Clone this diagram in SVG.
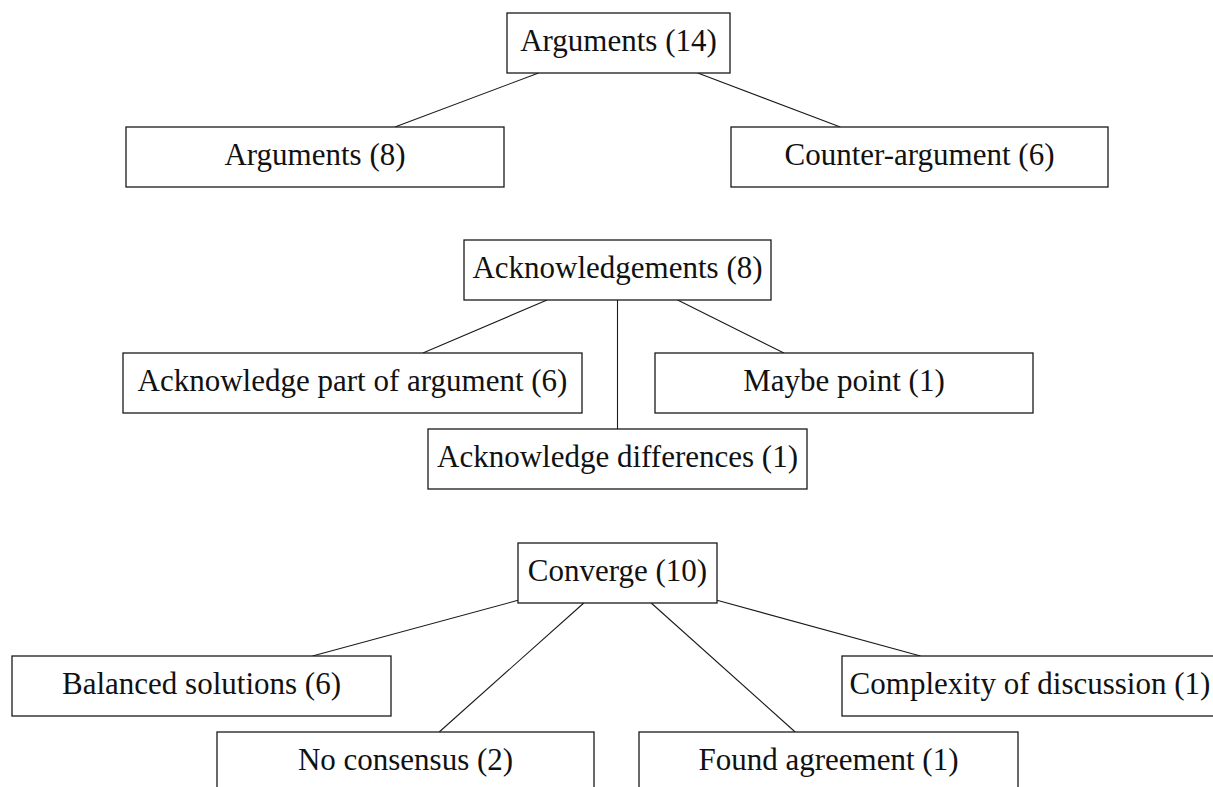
<svg xmlns="http://www.w3.org/2000/svg" width="1213" height="787" viewBox="0 0 1213 787">
  <style>
    .box { fill: #ffffff; stroke: #1a1a1a; stroke-width: 1.3; }
    .lbl { font-family: "Liberation Serif", "Times New Roman", serif; font-size: 31px; fill: #111111; text-anchor: middle; }
    .edge { stroke: #1a1a1a; stroke-width: 1.1; fill: none; }
  </style>
  <rect width="1213" height="787" fill="#ffffff"/>

  <!-- connectors: centre-to-centre lines clipped at the box borders -->
  <g id="connectors">
    <line class="edge" x1="538.6" y1="73" x2="394.9" y2="127"/>
    <line class="edge" x1="697.7" y1="73" x2="840.3" y2="127"/>
    <line class="edge" x1="547.1" y1="300" x2="422.9" y2="353"/>
    <line class="edge" x1="677.6" y1="300" x2="783.9" y2="353"/>
    <line class="edge" x1="617.5" y1="300" x2="617.5" y2="429"/>
    <line class="edge" x1="518" y1="600.3" x2="312.5" y2="656"/>
    <line class="edge" x1="583.8" y1="603" x2="439.2" y2="732"/>
    <line class="edge" x1="651.2" y1="603" x2="795.2" y2="732"/>
    <line class="edge" x1="717" y1="600.3" x2="920.5" y2="656"/>
  </g>

  <!-- tree 1: arguments -->
  <g id="arguments-14">
    <rect class="box" x="507" y="13" width="223" height="60"/>
    <text class="lbl" x="618.5" y="51">Arguments (14)</text>
  </g>
  <g id="arguments-8">
    <rect class="box" x="126" y="127" width="378" height="60"/>
    <text class="lbl" x="315" y="165">Arguments (8)</text>
  </g>
  <g id="counter-argument">
    <rect class="box" x="731" y="127" width="377" height="60"/>
    <text class="lbl" x="919.5" y="165">Counter-argument (6)</text>
  </g>

  <!-- tree 2: acknowledgements -->
  <g id="acknowledgements">
    <rect class="box" x="464" y="240" width="307" height="60"/>
    <text class="lbl" x="617.5" y="278">Acknowledgements (8)</text>
  </g>
  <g id="ack-part">
    <rect class="box" x="123" y="353" width="459" height="60"/>
    <text class="lbl" x="352.5" y="391">Acknowledge part of argument (6)</text>
  </g>
  <g id="maybe-point">
    <rect class="box" x="655" y="353" width="378" height="60"/>
    <text class="lbl" x="844" y="391">Maybe point (1)</text>
  </g>
  <g id="ack-differences">
    <rect class="box" x="428" y="429" width="379" height="60"/>
    <text class="lbl" x="617.5" y="467">Acknowledge differences (1)</text>
  </g>

  <!-- tree 3: converge -->
  <g id="converge">
    <rect class="box" x="518" y="543" width="199" height="60"/>
    <text class="lbl" x="617.5" y="581">Converge (10)</text>
  </g>
  <g id="balanced-solutions">
    <rect class="box" x="12" y="656" width="379" height="60"/>
    <text class="lbl" x="201.5" y="694">Balanced solutions (6)</text>
  </g>
  <g id="no-consensus">
    <rect class="box" x="217" y="732" width="377" height="60"/>
    <text class="lbl" x="405.5" y="770">No consensus (2)</text>
  </g>
  <g id="found-agreement">
    <rect class="box" x="639" y="732" width="379" height="60"/>
    <text class="lbl" x="828.5" y="770">Found agreement (1)</text>
  </g>
  <g id="complexity">
    <rect class="box" x="842" y="656" width="376" height="60"/>
    <text class="lbl" x="1030" y="694">Complexity of discussion (1)</text>
  </g>
</svg>
